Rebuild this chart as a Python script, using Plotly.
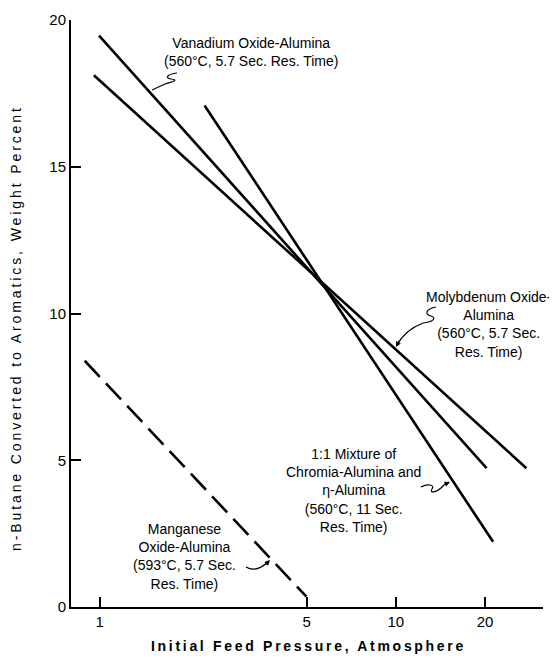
import math
import plotly.graph_objects as go

# ---- data ----
vanadium_p = [0.995, 20.25]
vanadium_y = [19.47, 4.73]
molybdenum_p = [0.956, 27.6]
molybdenum_y = [18.12, 4.73]
chromia_p = [2.26, 21.3]
chromia_y = [17.09, 2.22]
manganese_p = [0.89, 4.99]
manganese_y = [8.39, 0.35]

x_ticks = [1, 5, 10, 20]
x_ticklabels = ["1", "5", "10", "20"]
y_ticks = [0, 5, 10, 15, 20]

label_vanadium = "Vanadium Oxide-Alumina<br>(560°C, 5.7 Sec. Res. Time)"
label_molybdenum = "Molybdenum Oxide-<br>Alumina<br>(560°C, 5.7 Sec.<br>Res. Time)"
label_chromia = "1:1 Mixture of<br>Chromia-Alumina and<br>η-Alumina<br>(560°C, 11 Sec.<br>Res. Time)"
label_manganese = "Manganese<br>Oxide-Alumina<br>(593°C, 5.7 Sec.<br>Res. Time)"
x_title = "Initial Feed Pressure, Atmosphere"
y_title = "n-Butane Converted to Aromatics, Weight Percent"

# ---- layout geometry (window pixels; page body has an 8px margin) ----
OFF = 8
WIN_W, WIN_H = 557, 658
W, H = WIN_W - OFF, WIN_H - OFF
L, R, T, B = 71, 543, 20, 607          # plot area in window pixels
FONT = "Liberation Sans, Arial, sans-serif"


def fx(px):
    return (px - L) / (R - L)


def fy(py):
    return (B - py) / (B - T)


def path(cmds):
    out = []
    for c, pts in cmds:
        out.append(c + " " + " ".join(f"{fx(a):.5f},{fy(b):.5f}" for a, b in pts))
    return " ".join(out)


fig = go.Figure()
line_style = dict(color="black", width=2.6)
fig.add_trace(go.Scatter(x=vanadium_p, y=vanadium_y, mode="lines", line=line_style, name="Vanadium"))
fig.add_trace(go.Scatter(x=molybdenum_p, y=molybdenum_y, mode="lines", line=line_style, name="Molybdenum"))
fig.add_trace(go.Scatter(x=chromia_p, y=chromia_y, mode="lines", line=line_style, name="Chromia"))
fig.add_trace(go.Scatter(x=manganese_p, y=manganese_y, mode="lines",
                         line=dict(color="black", width=2.6, dash="22px,9px"), name="Manganese"))

ann_font = dict(family=FONT, size=14, color="black")
annotations = []


def text_ann(text, px, py, **kw):
    d = dict(text=text, x=fx(px), y=fy(py), xref="paper", yref="paper", showarrow=False,
             xanchor="center", yanchor="middle", align="center", font=ann_font)
    d.update(kw)
    annotations.append(d)


text_ann(label_vanadium, 251, 52.5)
text_ann(label_molybdenum, 489, 324)
text_ann(label_chromia, 353, 490.5)
text_ann(label_manganese, 184, 556)

# axis titles with letter spacing
text_ann(f'<span style="letter-spacing:2.7px">{x_title}</span>', 308, 646,
         font=dict(family=FONT, size=14, color="black", weight="bold"))
text_ann(f'<span style="letter-spacing:2.9px">{y_title}</span>', 16, 328, textangle=-90,
         font=dict(family=FONT, size=14, color="black"))


# arrowheads at leader tips
def arrow(tip, tail):
    annotations.append(dict(text="", x=fx(tip[0]), y=fy(tip[1]), xref="paper", yref="paper",
                            showarrow=True, ax=tail[0] - tip[0], ay=tail[1] - tip[1],
                            arrowhead=2, arrowsize=0.9, arrowwidth=1.2, arrowcolor="black",
                            standoff=0, startstandoff=0))


arrow((396, 347), (400, 339))
arrow((450, 482), (443, 485))
arrow((270, 560), (264, 566))

shape_line = dict(color="black", width=1.2)
shapes = [
    dict(type="path", xref="paper", yref="paper", line=shape_line,
         path=path([("M", [(152, 90)]), ("L", [(165, 84)]),
                    ("C", [(175, 81), (178, 80), (171, 79)]),
                    ("C", [(164, 78), (168, 74), (177, 73)])])),
    dict(type="path", xref="paper", yref="paper", line=shape_line,
         path=path([("M", [(436, 307)]),
                    ("C", [(426, 309), (424, 314), (431, 316)]),
                    ("C", [(437, 318), (433, 322), (423, 323)]),
                    ("Q", [(405, 330), (397, 345)])])),
    dict(type="path", xref="paper", yref="paper", line=shape_line,
         path=path([("M", [(421, 487)]),
                    ("C", [(428, 483), (435, 485), (432, 489)]),
                    ("C", [(429, 493), (436, 494), (444, 485)]),
                    ("L", [(449, 482)])])),
    dict(type="path", xref="paper", yref="paper", line=shape_line,
         path=path([("M", [(246, 567)]),
                    ("Q", [(256, 573), (268, 562)])])),
]

axis_common = dict(showgrid=False, zeroline=False, showline=True, linecolor="black", linewidth=2,
                   ticks="inside", ticklen=10, tickwidth=2, tickcolor="black", automargin=False,
                   tickfont=dict(family=FONT, size=15, color="black"))

fig.update_layout(
    width=W, height=H,
    margin=dict(l=L - OFF, r=WIN_W - R, t=T - OFF, b=WIN_H - B, pad=0, autoexpand=False),
    plot_bgcolor="white", paper_bgcolor="white",
    showlegend=False,
    xaxis=dict(type="log", range=[math.log10(0.8), math.log10(31.4)],
               tickvals=x_ticks, ticktext=x_ticklabels, **axis_common),
    yaxis=dict(range=[0, 20], tickvals=y_ticks, **axis_common),
    annotations=annotations,
    shapes=shapes,
)

fig.write_html("out.html")
